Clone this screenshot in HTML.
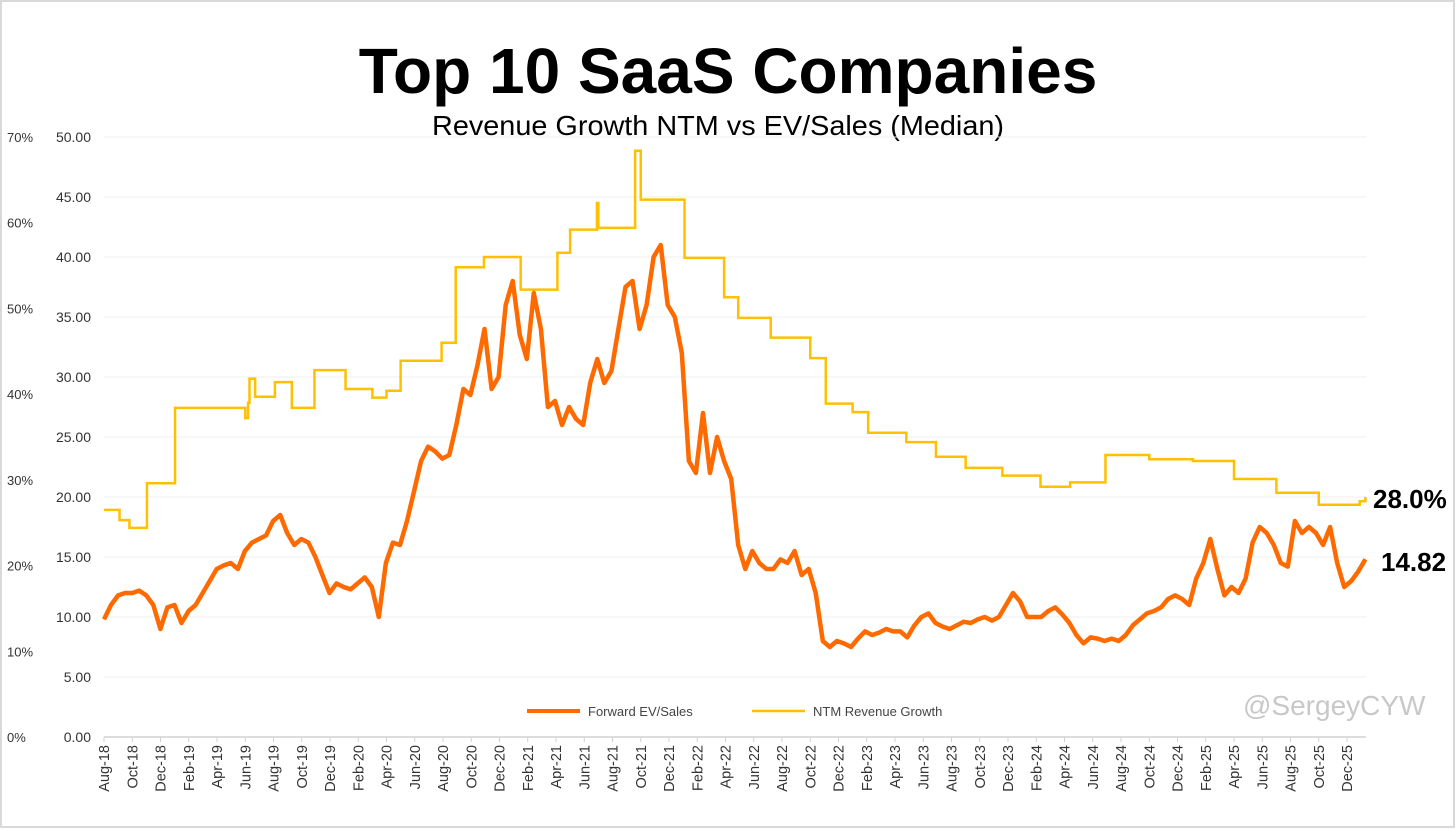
<!DOCTYPE html>
<html><head><meta charset="utf-8"><style>
body{margin:0;background:#fff;}
svg{display:block;font-family:"Liberation Sans",sans-serif;}
</style></head><body>
<svg id="chart" width="1456" height="829" viewBox="0 0 1456 829">
<rect x="1" y="1" width="1453" height="826" fill="#fff" stroke="#d9d9d9" stroke-width="2"/>
<text x="728" y="93" text-anchor="middle" font-size="64" font-weight="bold" fill="#000">Top 10 SaaS Companies</text>
<text x="718" y="135" text-anchor="middle" font-size="28" fill="#000" textLength="572" lengthAdjust="spacingAndGlyphs">Revenue Growth NTM vs EV/Sales (Median)</text>
<g id="grid"></g><g id="axes"></g><g id="series"></g>
<g>
<line x1="527" y1="711" x2="580" y2="711" stroke="#FF6A00" stroke-width="4"/>
<text x="588" y="716" font-size="13" fill="#444">Forward EV/Sales</text>
<line x1="752" y1="711" x2="805" y2="711" stroke="#FFC000" stroke-width="2.5"/>
<text x="813" y="716" font-size="13" fill="#444">NTM Revenue Growth</text>
</g>
<text x="1243" y="715" font-size="28" fill="#c8c8c8">@SergeyCYW</text>
<text x="1373" y="508" font-size="26" font-weight="bold" fill="#000">28.0%</text>
<text x="1381" y="571" font-size="26" font-weight="bold" fill="#000">14.82</text>
</svg>
<script>
const evTicks=[0,5,10,15,20,25,30,35,40,45,50];
const pctTicks=[0,10,20,30,40,50,60,70];
const monthLabels=["Aug-18","Oct-18","Dec-18","Feb-19","Apr-19","Jun-19","Aug-19","Oct-19","Dec-19","Feb-20","Apr-20","Jun-20","Aug-20","Oct-20","Dec-20","Feb-21","Apr-21","Jun-21","Aug-21","Oct-21","Dec-21","Feb-22","Apr-22","Jun-22","Aug-22","Oct-22","Dec-22","Feb-23","Apr-23","Jun-23","Aug-23","Oct-23","Dec-23","Feb-24","Apr-24","Jun-24","Aug-24","Oct-24","Dec-24","Feb-25","Apr-25","Jun-25","Aug-25","Oct-25","Dec-25"];
// EV/Sales sampled every half month from Aug-18
const evValues=[9.8,11,11.8,12,12,12.2,11.8,11,9,10.8,11,9.5,10.5,11,12,13,14,14.3,14.5,14,15.5,16.2,16.5,16.8,18,18.5,17,16,16.5,16.2,15,13.5,12,12.8,12.5,12.3,12.8,13.3,12.5,10,14.5,16.2,16,18,20.5,23,24.2,23.8,23.2,23.5,26,29,28.5,31,34,29,30,36,38,33.5,31.5,37,34,27.5,28,26,27.5,26.5,26,29.5,31.5,29.5,30.5,34,37.5,38,34,36,40,41,36,35,32,23,22,27,22,25,23,21.5,16,14,15.5,14.5,14,14,14.8,14.5,15.5,13.5,14,12,8,7.5,8,7.8,7.5,8.2,8.8,8.5,8.7,9,8.8,8.8,8.3,9.3,10,10.3,9.5,9.2,9,9.3,9.6,9.5,9.8,10,9.7,10,11,12,11.3,10,10,10,10.5,10.8,10.2,9.5,8.5,7.8,8.3,8.2,8,8.2,8,8.5,9.3,9.8,10.3,10.5,10.8,11.5,11.8,11.5,11,13.2,14.5,16.5,14,11.8,12.5,12,13.2,16.2,17.5,17,16,14.5,14.2,18,17,17.5,17,16,17.5,14.5,12.5,13,13.8,14.82];
// NTM growth step changes: month offset from Aug-18, value %
const growthMonths=[0,1.1,1.8,3.04,5.03,10,10.2,10.3,10.7,12.1,13.3,14.9,17.1,19,20,21,23.9,24.9,26.9,29.5,32.1,33,34.9,35,37.6,38,41.1,43.9,44.9,47.2,50,51.1,53,54.1,56.8,58.9,61,63.6,66.3,68.4,70.9,74,77.1,80,83,86,88.9,89.3];
const growthValues=[26.5,25.3,24.4,29.6,38.4,37.2,39,41.8,39.7,41.4,38.4,42.8,40.6,39.6,40.4,43.9,46,54.8,56,52.2,56.5,59.2,62.3,59.4,68.4,62.7,55.9,51.3,48.9,46.6,44.2,38.9,37.9,35.5,34.4,32.7,31.4,30.5,29.2,29.7,32.9,32.4,32.2,30.1,28.5,27.1,27.5,28.0];

const NS="http://www.w3.org/2000/svg";
const X0=104,PX_PER_MONTH=14.125,Y0=737,Y1=137,XEND=1366;
const xM=m=>X0+m*PX_PER_MONTH;
const yEV=v=>Y0-(v/50)*(Y0-Y1);
const yPct=p=>Y0-(p/70)*(Y0-Y1);
function mk(tag,attrs,parent){const e=document.createElementNS(NS,tag);for(const k in attrs)e.setAttribute(k,attrs[k]);parent.appendChild(e);return e;}
const grid=document.getElementById('grid'),axes=document.getElementById('axes'),series=document.getElementById('series');

evTicks.forEach(v=>{
  if(v>0){const l=mk('line',{x1:X0,x2:XEND,y1:yEV(v),y2:yEV(v),stroke:'#efefef','stroke-width':1},grid);
  
  }
  const t=mk('text',{x:91,y:yEV(v)+5,'text-anchor':'end','font-size':14,fill:'#333'},axes);
  t.textContent=v.toFixed(2);
  
  
});
pctTicks.forEach(p=>{
  const t=mk('text',{x:7,y:yPct(p)+5,'font-size':13,fill:'#333'},axes);
  t.textContent=p+'%';
  
  
});
const ax=mk('line',{x1:X0,x2:XEND,y1:Y0,y2:Y0,stroke:'#d0d0d0','stroke-width':1.5},axes);


monthLabels.forEach((lab,i)=>{
  const x=xM(i*2);
  mk('line',{x1:x,x2:x,y1:Y0,y2:Y0+5,stroke:'#d0d0d0'},axes);
  const t=mk('text',{x:0,y:0,transform:`translate(${x+5},${Y0+8}) rotate(-90)`,'text-anchor':'end','font-size':14.5,fill:'#333'},axes);
  t.textContent=lab;
  
  
});
let d='';
growthMonths.forEach((m,i)=>{
  const x=xM(m),y=yPct(growthValues[i]);
  if(i===0)d+=`M${x},${y}`;else d+=`H${x}V${y}`;
});
const gp=mk('path',{d:d+`H${xM(growthMonths[growthMonths.length-1])}`,fill:'none',stroke:'#FFC000','stroke-width':2.5},series);


const evd=evValues.map((v,i)=>(i?'L':'M')+xM(i*0.5*(89.3/89.5)).toFixed(1)+','+yEV(v).toFixed(1)).join('');
const ep=mk('path',{d:evd,fill:'none',stroke:'#FF6A00','stroke-width':4.5,'stroke-linejoin':'round'},series);


</script>
</body></html>
